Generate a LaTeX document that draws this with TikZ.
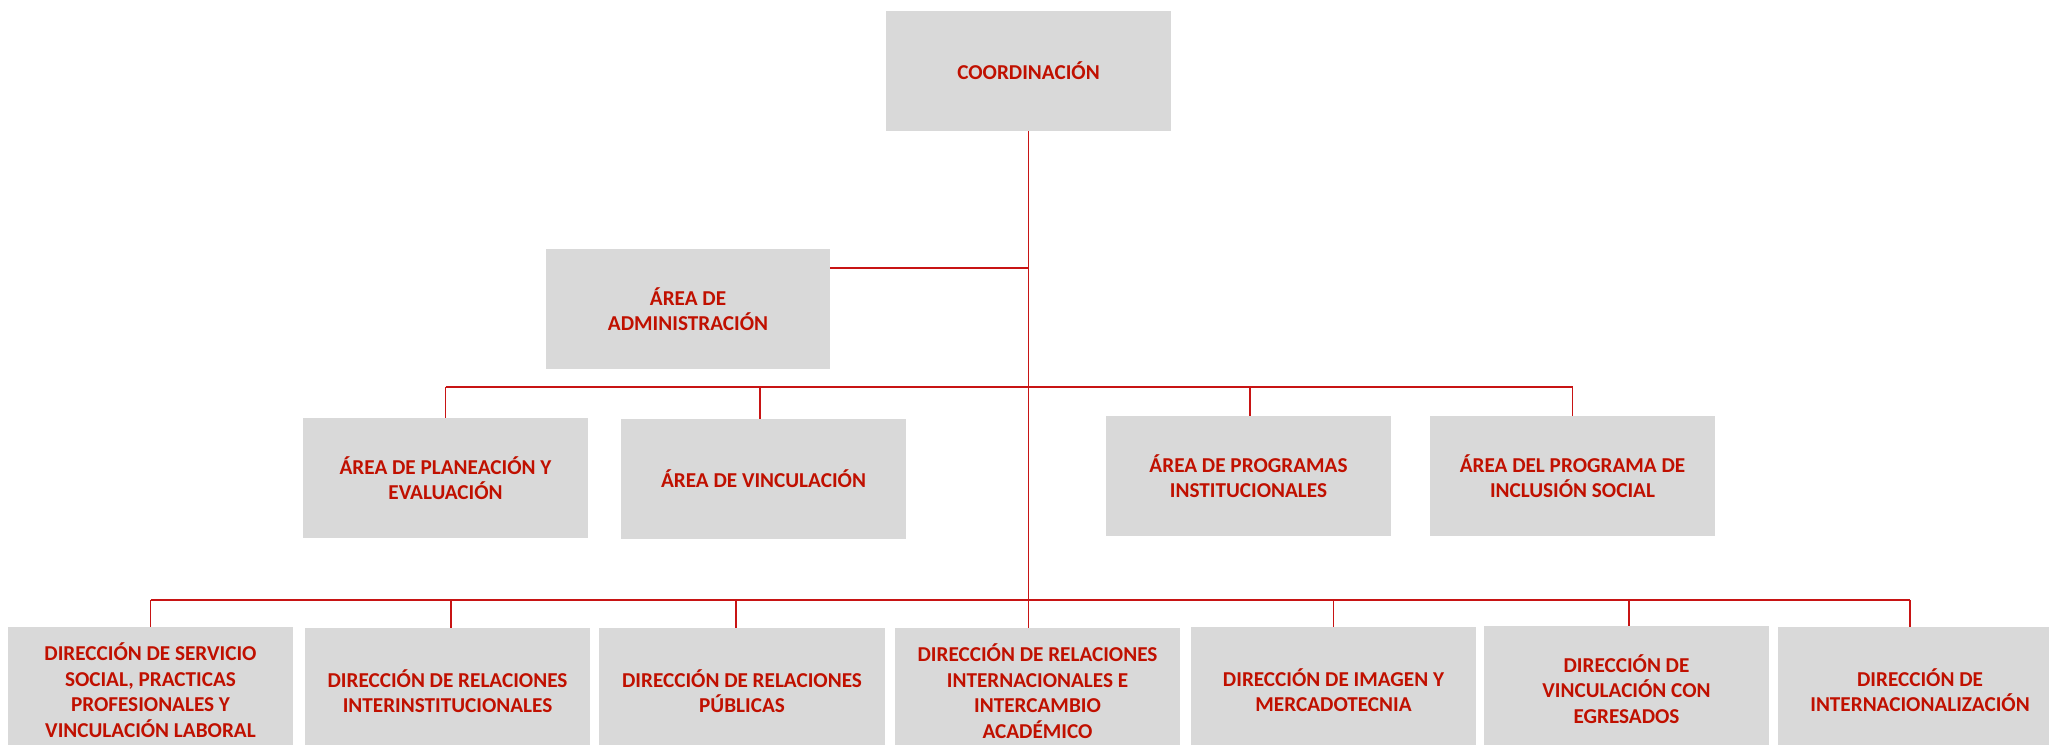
\documentclass[tikz,border=0pt]{standalone}
\usepackage{fontspec}
\setmainfont{Carlito}
\definecolor{boxgray}{RGB}{217,217,217}
\definecolor{txtred}{RGB}{192,16,0}
\definecolor{linered}{RGB}{200,20,20}
\begin{document}
\begin{tikzpicture}[x=0.5pt,y=-0.5pt,
  orgbox/.style={fill=boxgray, draw=none, inner sep=0pt, text=txtred, align=center,
    font=\fontsize{10.6}{12.8}\selectfont\bfseries, minimum width=142.5pt},
  topbox/.style={orgbox, minimum height=60pt},
  dirbox/.style={orgbox, minimum height=63pt},
  link/.style={draw=linered, line width=0.75pt}]
\useasboundingbox (0,0) rectangle (2049,744);

% top
\node[topbox] (coord) at (1028.5,71) {COORDINACIÓN};
\node[topbox, minimum width=142pt] (admin) at (688,309) {ÁREA DE\\ADMINISTRACIÓN};

% level 2
\node[topbox] (a1) at (445.5,478) {ÁREA DE PLANEACIÓN Y\\EVALUACIÓN};
\node[topbox] (a2) at (763.5,479) {ÁREA DE VINCULACIÓN};
\node[topbox] (a3) at (1248.5,476) {ÁREA DE PROGRAMAS\\INSTITUCIONALES};
\node[topbox] (a4) at (1572.5,476) {ÁREA DEL PROGRAMA DE\\INCLUSIÓN SOCIAL};

% level 3
\node[dirbox] (d1) at (150.5,690) {DIRECCIÓN DE SERVICIO\\SOCIAL, PRACTICAS\\PROFESIONALES Y\\VINCULACIÓN LABORAL};
\node[dirbox] (d2) at (447.5,691) {DIRECCIÓN DE RELACIONES\\INTERINSTITUCIONALES};
\node[dirbox, minimum width=143pt] (d3) at (742,691) {DIRECCIÓN DE RELACIONES\\PÚBLICAS};
\node[dirbox] (d4) at (1037.5,691) {DIRECCIÓN DE RELACIONES\\INTERNACIONALES E\\INTERCAMBIO\\ACADÉMICO};
\node[dirbox] (d5) at (1333.5,690) {DIRECCIÓN DE IMAGEN Y\\MERCADOTECNIA};
\node[dirbox] (d6) at (1626.5,689) {DIRECCIÓN DE\\VINCULACIÓN CON\\EGRESADOS};
\node[dirbox, minimum width=142pt] (d7) at (1920,690) {DIRECCIÓN DE\\INTERNACIONALIZACIÓN};

% junctions
\coordinate (j2) at (1028,387);
\coordinate (j3) at (1028,600);
\coordinate (adminj) at ([yshift=20.5pt]admin.east);

% main trunk
\draw[link] (coord.south) -- (coord.south |- d4.north);
% admin branch
\draw[link] (adminj) -- (adminj -| coord.south);

% level 2 bar and ticks
\draw[link] (a1.north |- j2) -- (a4.north |- j2);
\draw[link] (a1.north) -- (a1.north |- j2);
\draw[link] ([xshift=-1.75pt]a2.north) -- ([xshift=-1.75pt]a2.north |- j2);
\draw[link] ([xshift=0.75pt]a3.north) -- ([xshift=0.75pt]a3.north |- j2);
\draw[link] (a4.north) -- (a4.north |- j2);

% level 3 bar and ticks
\draw[link] (d1.north |- j3) -- ([xshift=-5pt]d7.north |- j3);
\draw[link] (d1.north) -- (d1.north |- j3);
\draw[link] ([xshift=1.75pt]d2.north) -- ([xshift=1.75pt]d2.north |- j3);
\draw[link] ([xshift=-3pt]d3.north) -- ([xshift=-3pt]d3.north |- j3);
\draw[link] (d5.north) -- (d5.north |- j3);
\draw[link] ([xshift=1.25pt]d6.north) -- ([xshift=1.25pt]d6.north |- j3);
\draw[link] ([xshift=-5pt]d7.north) -- ([xshift=-5pt]d7.north |- j3);
\end{tikzpicture}
\end{document}
